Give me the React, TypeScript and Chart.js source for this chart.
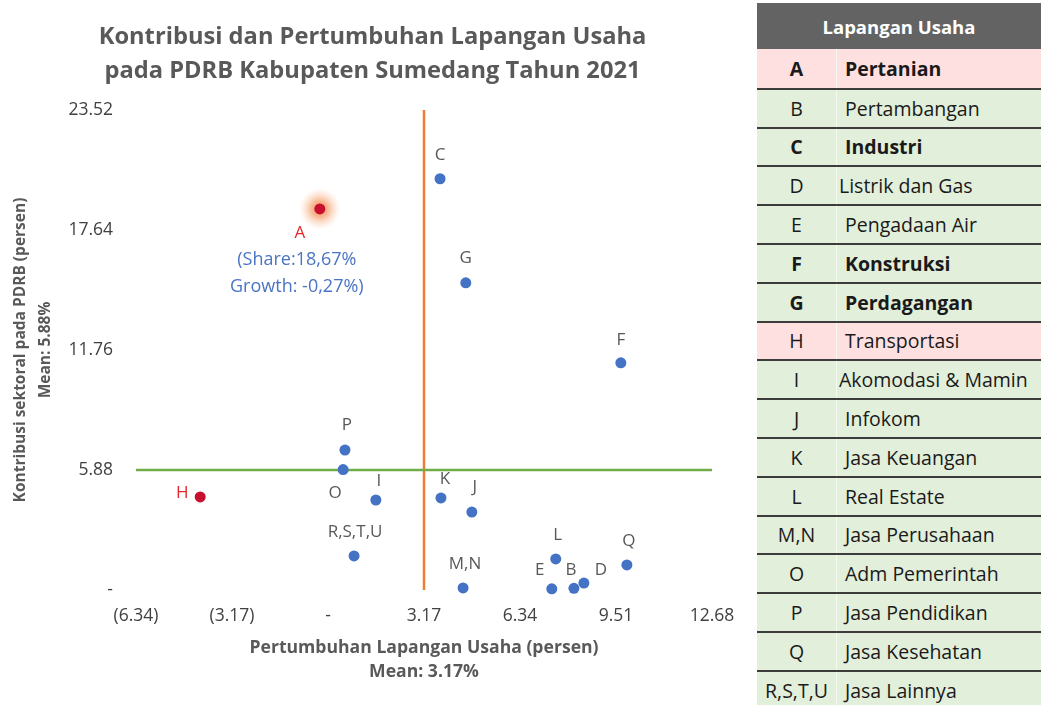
import React, { useEffect, useRef } from 'react';
import { Chart, registerables } from 'chart.js';

Chart.register(...registerables);
Chart.defaults.font.family = "'Open Sans', sans-serif";

// ---------- data ----------
const SECTORS = ['A', 'B', 'C', 'D', 'E', 'F', 'G', 'H', 'I', 'J', 'K', 'L', 'M,N', 'O', 'P', 'Q', 'R,S,T,U'];
const GROWTH = [-0.27, 8.12, 3.7, 8.45, 7.39, 9.67, 4.55, -4.22, 1.58, 4.75, 3.73, 7.52, 4.46, 0.5, 0.56, 9.87, 0.86];
const SHARE = [18.67, 0.08, 20.15, 0.34, 0.06, 11.13, 15.05, 4.56, 4.41, 3.82, 4.51, 1.52, 0.1, 5.9, 6.86, 1.23, 1.67];
const SECTOR_NAMES = [
  'Pertanian', 'Pertambangan', 'Industri', 'Listrik dan Gas', 'Pengadaan Air', 'Konstruksi',
  'Perdagangan', 'Transportasi', 'Akomodasi & Mamin', 'Infokom', 'Jasa Keuangan', 'Real Estate',
  'Jasa Perusahaan', 'Adm Pemerintah', 'Jasa Pendidikan', 'Jasa Kesehatan', 'Jasa Lainnya',
];
const X_TICKS = [-6.34, -3.17, 0, 3.17, 6.34, 9.51, 12.68];
const Y_TICKS = [0, 5.88, 11.76, 17.64, 23.52];
const MEAN_GROWTH = 3.17;
const MEAN_SHARE = 5.88;
const NOTE_A = ['(Share:18,67%', 'Growth: -0,27%)'];
const TITLE = ['Kontribusi dan Pertumbuhan Lapangan Usaha', 'pada PDRB Kabupaten Sumedang Tahun 2021'];
const X_TITLE = 'Pertumbuhan Lapangan Usaha (persen)';
const Y_TITLE = 'Kontribusi sektoral pada PDRB (persen)';
const TABLE_HEADER = 'Lapangan Usaha';

// ---------- styling (not data) ----------
const HIGHLIGHT = ['A', 'H'];
const BOLD_ROWS = ['A', 'C', 'F', 'G'];
const TIGHT_ROWS = ['D', 'I'];
const LABEL_OFFSETS: Record<string, [number, number]> = {
  A: [-20, 24], B: [-3, -18], C: [0, -24], D: [17, -13], E: [-12, -19], F: [0, -23],
  G: [0, -25], H: [-18, -4], I: [3, -19], J: [3, -25], K: [4, -19], L: [2, -24],
  'M,N': [2, -24], O: [-8, 24], P: [2, -25], Q: [2, -24], 'R,S,T,U': [1, -24],
};

const fmt = (v: number) => {
  if (Math.abs(v) < 1e-9) return '-';
  return v < 0 ? `(${Math.abs(v).toFixed(2)})` : v.toFixed(2);
};

const glowPlugin = {
  id: 'glowA',
  beforeDatasetsDraw(chart: any) {
    const meta = chart.getDatasetMeta(2);
    const el = meta.data[SECTORS.indexOf('A')];
    if (!el) return;
    const ctx = chart.ctx;
    const r = 21;
    ctx.save();
    const g = ctx.createRadialGradient(el.x, el.y, 0, el.x, el.y, r);
    g.addColorStop(0, 'rgba(242,130,70,0.95)');
    g.addColorStop(0.4, 'rgba(246,165,115,0.75)');
    g.addColorStop(0.75, 'rgba(250,200,170,0.35)');
    g.addColorStop(1, 'rgba(253,225,205,0)');
    ctx.fillStyle = g;
    ctx.beginPath();
    ctx.arc(el.x, el.y, r, 0, Math.PI * 2);
    ctx.fill();
    ctx.restore();
  },
};

const labelPlugin = {
  id: 'pointLabels',
  afterDatasetsDraw(chart: any) {
    const meta = chart.getDatasetMeta(2);
    const ctx = chart.ctx;
    ctx.save();
    ctx.textAlign = 'center';
    ctx.textBaseline = 'middle';
    ctx.font = "17px 'Open Sans', sans-serif";
    SECTORS.forEach((s, i) => {
      const el = meta.data[i];
      if (!el) return;
      const [dx, dy] = LABEL_OFFSETS[s] || [0, -22];
      ctx.fillStyle = HIGHLIGHT.includes(s) ? '#E8262A' : '#595959';
      ctx.fillText(s, el.x + dx, el.y + dy);
    });
    const a = meta.data[SECTORS.indexOf('A')];
    if (a) {
      ctx.font = "18px 'Open Sans', sans-serif";
      ctx.fillStyle = '#4A74C4';
      NOTE_A.forEach((t, k) => ctx.fillText(t, a.x - 23, a.y + 51 + k * 27));
    }
    ctx.restore();
  },
};

function ScatterChart() {
  const ref = useRef<HTMLCanvasElement>(null);
  useEffect(() => {
    if (!ref.current) return;
    const yMin = Y_TICKS[0];
    const yMax = Y_TICKS[Y_TICKS.length - 1];
    const xMin = X_TICKS[0];
    const xMax = X_TICKS[X_TICKS.length - 1];
    const chart = new Chart(ref.current, {
      type: 'scatter',
      data: {
        datasets: [
          {
            label: 'Mean growth',
            data: [{ x: MEAN_GROWTH, y: yMin }, { x: MEAN_GROWTH, y: yMax }],
            showLine: true,
            borderColor: '#ED7D31',
            borderWidth: 2.5,
            pointRadius: 0,
            order: 2,
          },
          {
            label: 'Mean share',
            data: [{ x: xMin, y: MEAN_SHARE }, { x: xMax, y: MEAN_SHARE }],
            showLine: true,
            borderColor: '#70AD47',
            borderWidth: 2.5,
            pointRadius: 0,
            order: 1,
          },
          {
            label: 'Lapangan Usaha',
            data: SECTORS.map((_, i) => ({ x: GROWTH[i], y: SHARE[i] })),
            pointBackgroundColor: SECTORS.map((s) => (HIGHLIGHT.includes(s) ? '#C8102E' : '#4472C4')),
            pointBorderWidth: 0,
            pointRadius: 5.5,
            clip: false,
            order: 0,
          } as any,
        ],
      },
      options: {
        animation: false,
        responsive: false,
        devicePixelRatio: 1,
        layout: { padding: { left: 0, right: 0, top: 0, bottom: 0 } },
        plugins: {
          legend: { display: false },
          tooltip: { enabled: false },
          title: {
            display: true,
            text: TITLE,
            color: '#595959',
            font: { size: 23.7, weight: 'bold', lineHeight: 1.4 },
            padding: { top: 21, bottom: 22.6 },
          },
        },
        scales: {
          x: {
            type: 'linear',
            min: xMin,
            max: xMax,
            afterBuildTicks: (s: any) => { s.ticks = X_TICKS.map((v) => ({ value: v })); },
            afterFit: (s: any) => {
              s.height = 115;
              s.paddingRight = 20;
              s.paddingLeft = 20;
            },
            ticks: {
              callback: (v: any) => fmt(Number(v)),
              color: '#404040',
              font: { size: 17.5 },
              padding: 16,
              autoSkip: false,
              maxRotation: 0,
            },
            grid: { display: false, drawTicks: false },
            border: { display: false },
            title: {
              display: true,
              text: [X_TITLE, `Mean: ${MEAN_GROWTH.toFixed(2)}%`],
              color: '#595959',
              font: { size: 17.6, weight: 'bold', lineHeight: 1.36 },
              padding: { top: 4, bottom: 21 },
            },
          },
          y: {
            type: 'linear',
            min: yMin,
            max: yMax,
            afterBuildTicks: (s: any) => { s.ticks = Y_TICKS.map((v) => ({ value: v })); },
            afterFit: (s: any) => { s.width = 136; },
            ticks: {
              callback: (v: any) => fmt(Number(v)),
              color: '#404040',
              font: { size: 17.5 },
              padding: 23,
              autoSkip: false,
            },
            grid: { display: false, drawTicks: false },
            border: { display: false },
            title: {
              display: true,
              text: [Y_TITLE, `Mean: ${MEAN_SHARE.toFixed(2)}%`],
              color: '#595959',
              font: { size: 15.5, weight: 'bold', lineHeight: 1.6 },
              padding: { top: 8, bottom: 0 },
            },
          },
          yRight: {
            type: 'linear',
            position: 'right',
            min: yMin,
            max: yMax,
            afterFit: (s: any) => { s.width = 33; },
            ticks: { display: false },
            grid: { display: false, drawTicks: false },
            border: { display: false },
          },
        },
      } as any,
      plugins: [glowPlugin, labelPlugin],
    });
    return () => chart.destroy();
  }, []);
  return <canvas ref={ref} width={745} height={705} style={{ display: 'block' }} />;
}

function SectorTable() {
  const rowH = 38.8;
  return (
    <div
      style={{
        position: 'absolute',
        left: 757,
        top: 3,
        width: 284,
        fontFamily: "'Open Sans', sans-serif",
        color: '#1a1a1a',
      }}
    >
      <div
        style={{
          height: 46,
          background: '#636363',
          color: '#ffffff',
          fontWeight: 'bold',
          fontSize: 18.5,
          display: 'flex',
          alignItems: 'center',
          justifyContent: 'center',
        }}
      >
        {TABLE_HEADER}
      </div>
      {SECTORS.map((s, i) => {
        const bold = BOLD_ROWS.includes(s);
        const pink = HIGHLIGHT.includes(s);
        return (
          <div
            key={s}
            style={{
              height: rowH,
              boxSizing: 'border-box',
              borderTop: i === 0 ? 'none' : '2px solid #3c3c3c',
              background: pink ? '#FFE0E0' : '#E2EFDA',
              display: 'flex',
              alignItems: 'center',
              fontSize: 19.5,
              fontWeight: bold ? 'bold' : 'normal',
            }}
          >
            <div
              style={{
                width: 80,
                height: '100%',
                boxSizing: 'border-box',
                borderRight: '1px solid #f4f8f1',
                display: 'flex',
                alignItems: 'center',
                justifyContent: 'center',
              }}
            >
              {s}
            </div>
            <div style={{ paddingLeft: TIGHT_ROWS.includes(s) ? 2 : 8, whiteSpace: 'nowrap' }}>
              {SECTOR_NAMES[i]}
            </div>
          </div>
        );
      })}
    </div>
  );
}

export default function App() {
  return (
    <div
      style={{
        position: 'fixed',
        left: 0,
        top: 0,
        width: 1041,
        height: 705,
        background: '#ffffff',
        overflow: 'hidden',
      }}
    >
      <div style={{ position: 'absolute', left: 0, top: 0 }}>
        <ScatterChart />
      </div>
      <SectorTable />
    </div>
  );
}
